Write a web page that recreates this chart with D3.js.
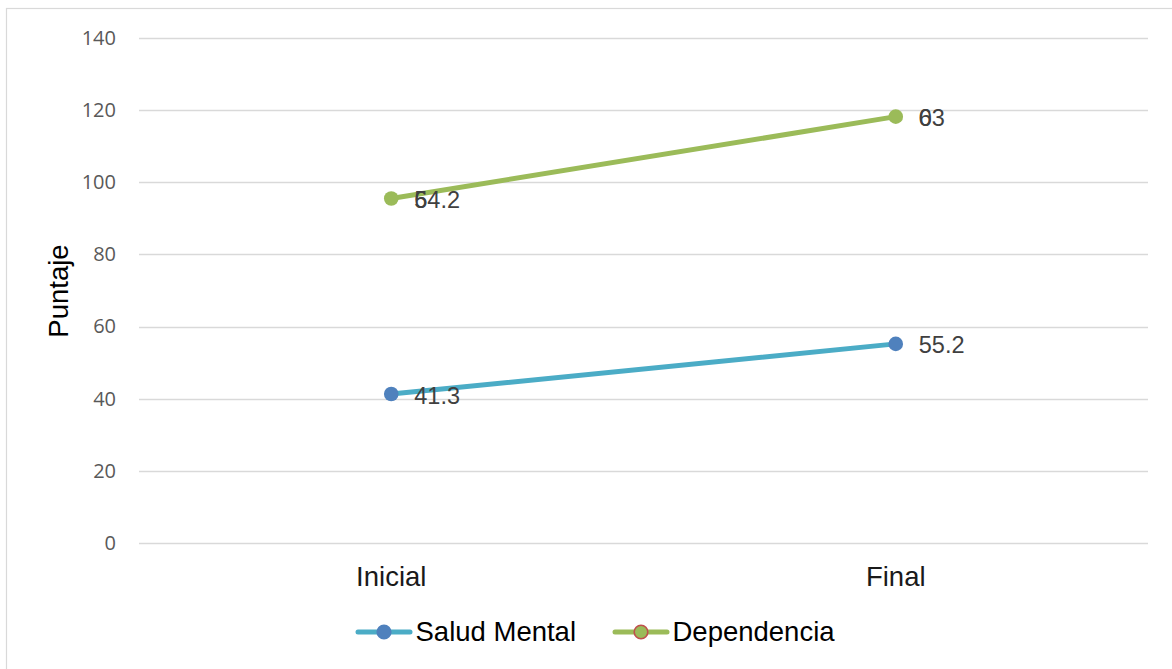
<!DOCTYPE html>
<html><head><meta charset="utf-8">
<script src="https://cdn.jsdelivr.net/npm/d3@7"></script>
<style>body{margin:0;background:#fff}</style>
</head><body>
<svg id="c" width="1172" height="669"></svg>
<script>
const categories = ["Inicial", "Final"];
const saludMental = [41.3, 55.2];
const dependencia = [54.2, 63];
const overlapLabels = ["6", "0"];
const yTicks = [0, 20, 40, 60, 80, 100, 120, 140];
const seriesNames = ["Salud Mental", "Dependencia"];

const svg = d3.select("#c");
svg.append("rect").attr("x", 6.5).attr("y", 8.5).attr("width", 1170).attr("height", 670)
  .attr("fill", "#fff").attr("stroke", "#d9d9d9").attr("stroke-width", 1.2);

const pLeft = 139, pRight = 1148, pTop = 38, pBottom = 543;
const x = d3.scaleBand().domain(categories).range([pLeft, pRight]);
const y = d3.scaleLinear().domain([0, 140]).range([pBottom, pTop]);
const cx = c => x(c) + x.bandwidth() / 2;
const lblFont = "'Liberation Sans', Arial, sans-serif";

// gridlines
svg.append("g").selectAll("line").data(yTicks).join("line")
  .attr("x1", pLeft).attr("x2", pRight)
  .attr("y1", d => Math.round(y(d)) + 0.5).attr("y2", d => Math.round(y(d)) + 0.5)
  .attr("stroke", "#d9d9d9").attr("stroke-width", 1.3);

// y axis labels
const yAxis = d3.axisLeft(y).tickValues(yTicks).tickSize(0).tickPadding(0);
const gy = svg.append("g").attr("transform", `translate(116,0)`).call(yAxis);
gy.select(".domain").remove();
gy.selectAll("text").attr("font-family", "'Open Sans', sans-serif").attr("font-size", 20).attr("fill", "#595959");

// x axis labels
const xAxis = d3.axisBottom(x).tickSize(0).tickPadding(0);
const gx = svg.append("g").attr("transform", `translate(0,586)`).call(xAxis);
gx.select(".domain").remove();
gx.selectAll("text").attr("y", 0).attr("dy", 0).attr("font-family", lblFont).attr("font-size", 27.5).attr("fill", "#1a1a1a");

// axis title
svg.append("text").attr("transform", "translate(68,291) rotate(-90)")
  .attr("text-anchor", "middle").attr("font-family", lblFont)
  .attr("font-size", 27.5).attr("fill", "#000").text("Puntaje");

// stacked values
const s1 = categories.map((c, i) => ({c, v: saludMental[i], label: saludMental[i]}));
const s2 = categories.map((c, i) => ({c, v: saludMental[i] + dependencia[i], label: dependencia[i]}));

const line = d3.line().x(d => cx(d.c)).y(d => y(d.v));
svg.append("path").datum(s1).attr("d", line).attr("fill", "none").attr("stroke", "#4BACC6").attr("stroke-width", 5).attr("stroke-linecap", "round");
svg.append("path").datum(s2).attr("d", line).attr("fill", "none").attr("stroke", "#9BBB59").attr("stroke-width", 5).attr("stroke-linecap", "round");

svg.append("g").selectAll("circle").data(s1).join("circle")
  .attr("cx", d => cx(d.c)).attr("cy", d => y(d.v)).attr("r", 7.3).attr("fill", "#4F81BD");
svg.append("g").selectAll("circle").data(s2).join("circle")
  .attr("cx", d => cx(d.c)).attr("cy", d => y(d.v)).attr("r", 7.3).attr("fill", "#9BBB59");

function labels(data, texts) {
  svg.append("g").selectAll("text").data(data).join("text")
    .attr("x", d => cx(d.c) + 23).attr("y", d => y(d.v) + 9.5)
    .attr("font-family", lblFont).attr("font-size", 23.5).attr("fill", "#404040")
    .text((d, i) => texts ? texts[i] : d.label);
}
labels(s1);
labels(s2);
labels(s2, overlapLabels);

// legend
const legend = [
  {name: seriesNames[0], line: "#4BACC6", fill: "#4F81BD", stroke: "#4F81BD", x: 356},
  {name: seriesNames[1], line: "#9BBB59", fill: "#9BBB59", stroke: "#C0504D", x: 613}
];
const lg = svg.append("g");
legend.forEach(l => {
  lg.append("line").attr("x1", l.x + 2).attr("x2", l.x + 54).attr("y1", 632).attr("y2", 632)
    .attr("stroke", l.line).attr("stroke-width", 5).attr("stroke-linecap", "round");
  lg.append("circle").attr("cx", l.x + 28).attr("cy", 632).attr("r", 6.8)
    .attr("fill", l.fill).attr("stroke", l.stroke).attr("stroke-width", 1.6);
  lg.append("text").attr("x", l.x + 59.5).attr("y", 641).attr("font-family", lblFont)
    .attr("font-size", 27.5).attr("fill", "#000").text(l.name);
});
</script>
</body></html>
